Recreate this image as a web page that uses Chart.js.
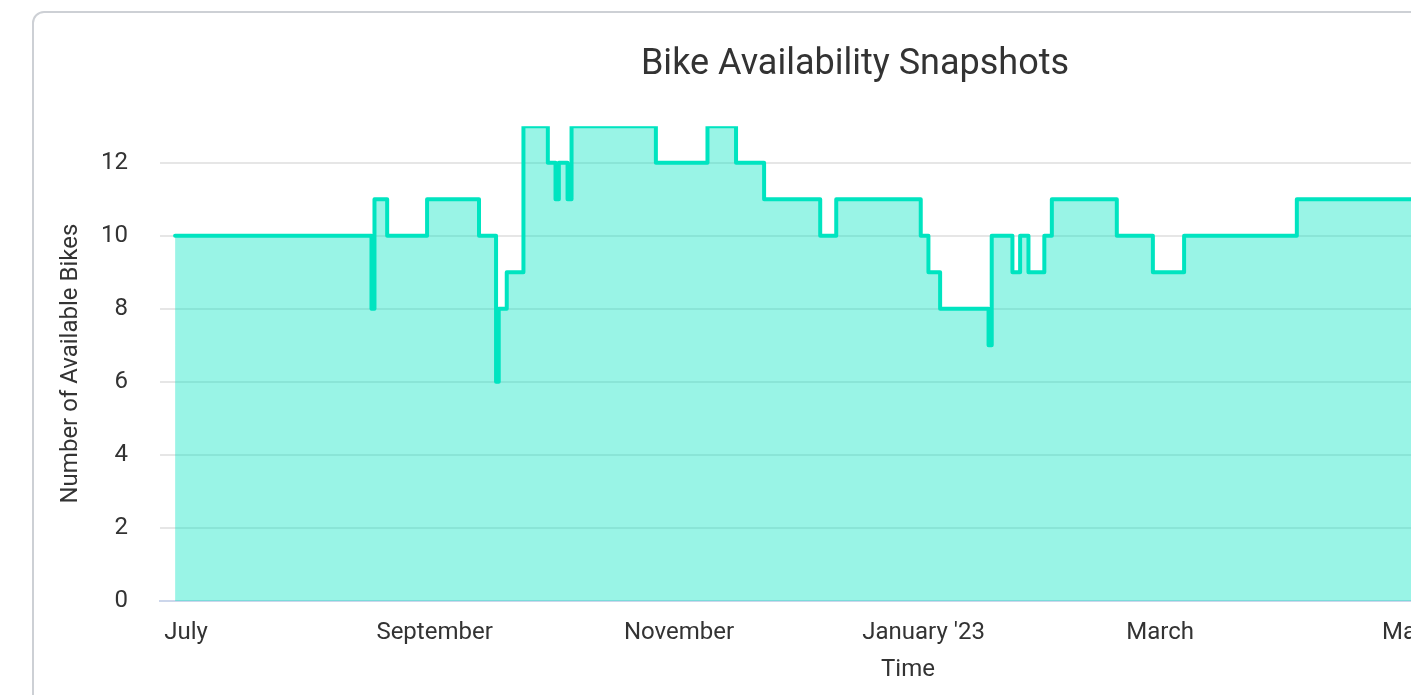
<!DOCTYPE html>
<html>
<head>
<meta charset="utf-8">
<title>Bike Availability Snapshots</title>
<script src="https://cdn.jsdelivr.net/npm/chart.js@4.4.1/dist/chart.umd.min.js"></script>
<style>
  html, body { margin: 0; padding: 0; background: #fff; overflow: hidden; }
  .card {
    position: absolute; left: 32px; top: 11px;
    width: 1660px; height: 760px;
    border: 2px solid #cdd0d5; border-radius: 12px;
    box-sizing: border-box; background: #fff;
  }
  #bikeChart { position: absolute; left: 0; top: 0; }
</style>
</head>
<body>
<div class="card"></div>
<canvas id="bikeChart" width="1710" height="695"></canvas>
<script>
// snapshot times (UTC) and bike count from that time on
const snapTimes = [
  '2022-06-28T06:00', '2022-08-16T06:00', '2022-08-17T00:00', '2022-08-20T04:00',
  '2022-08-30T03:00', '2022-09-12T02:00', '2022-09-16T08:00', '2022-09-17T00:00',
  '2022-09-19T00:00', '2022-09-23T04:00', '2022-09-29T06:00', '2022-10-01T04:00',
  '2022-10-02T00:00', '2022-10-04T04:00', '2022-10-05T04:00', '2022-10-26T05:00',
  '2022-11-08T02:00', '2022-11-15T05:00', '2022-11-22T05:00', '2022-12-06T05:00',
  '2022-12-10T05:00', '2022-12-31T07:00', '2023-01-02T05:00', '2023-01-05T03:00',
  '2023-01-17T05:00', '2023-01-18T00:00', '2023-01-23T04:00', '2023-01-25T02:00',
  '2023-01-27T04:00', '2023-01-31T03:00', '2023-02-02T00:00', '2023-02-18T05:00',
  '2023-02-27T05:00', '2023-03-07T00:00', '2023-04-04T03:00', '2023-06-28T06:00'
];
const bikeCounts = [
  10, 8, 11, 10,
  11, 10, 6, 8,
  9, 13, 12, 11,
  12, 11, 13, 12,
  13, 12, 11, 10,
  11, 10, 9, 8,
  7, 10, 9, 10,
  9, 10, 11, 10,
  9, 10, 11, 11
];

const xTickDates = ['2022-07-01', '2022-09-01', '2022-11-01', '2023-01-01', '2023-03-01', '2023-05-01'];
const xTickLabels = ['July', 'September', 'November', "January '23", 'March', 'May'];
const yTicks = [0, 2, 4, 6, 8, 10, 12];

const xStart = '2022-06-24T11:41';
const xEnd = '2023-07-02T17:41';

const toMs = s => Date.parse(s.length === 10 ? s + 'T00:00Z' : s + 'Z');

Chart.defaults.font.family = 'Roboto';
Chart.defaults.color = '#333333';

const axisFont = { family: 'Roboto', size: 24 };

const points = snapTimes.map((t, i) => ({ x: toMs(t), y: bikeCounts[i] }));

const ctx = document.getElementById('bikeChart').getContext('2d');
new Chart(ctx, {
    type: 'line',
    data: {
        datasets: [{
            label: 'Available Bikes',
            data: points,
            stepped: 'before',
            borderColor: '#00e4c0',
            backgroundColor: 'rgba(0, 228, 192, 0.4)',
            borderWidth: 4,
            borderJoinStyle: 'round',
            borderCapStyle: 'round',
            fill: 'origin',
            pointRadius: 0,
            pointHoverRadius: 0
        }]
    },
    options: {
        responsive: false,
        animation: false,
        layout: { padding: 0 },
        plugins: {
            legend: { display: false },
            tooltip: { enabled: false },
            title: {
                display: true,
                text: 'Bike Availability Snapshots',
                color: '#333333',
                font: { family: 'Roboto', size: 36, weight: 'normal' },
                padding: { top: 43, bottom: 40 }
            }
        },
        scales: {
            x: {
                type: 'linear',
                min: toMs(xStart),
                max: toMs(xEnd),
                grid: { display: false },
                border: { display: true, color: '#ccd6eb', width: 2 },
                ticks: {
                    autoSkip: false,
                    maxRotation: 0,
                    padding: 10,
                    color: '#333333',
                    font: axisFont,
                    callback: (value, index) => xTickLabels[index]
                },
                afterBuildTicks: scale => {
                    scale.ticks = xTickDates.map(d => ({ value: toMs(d) }));
                },
                afterFit: scale => { scale.height = 94; },
                title: {
                    display: true,
                    text: 'Time',
                    color: '#333333',
                    font: axisFont,
                    padding: { top: 0, bottom: 11 }
                }
            },
            y: {
                min: 0,
                max: 13,
                grid: { color: '#e6e6e6', lineWidth: 2, drawTicks: false },
                border: { display: false },
                ticks: { padding: 32, color: '#333333', font: axisFont },
                afterBuildTicks: scale => {
                    scale.ticks = yTicks.map(v => ({ value: v }));
                },
                afterFit: scale => { scale.width = 160; },
                title: {
                    display: true,
                    text: 'Number of Available Bikes',
                    color: '#333333',
                    font: axisFont,
                    padding: { top: 57, bottom: 0 }
                }
            },
            // empty right gutter so the title centres on the whole card
            gutter: {
                position: 'right',
                display: true,
                grid: { display: false },
                border: { display: false },
                ticks: { display: false },
                afterFit: scale => { scale.width = 54; }
            }
        }
    }
});
</script>
</body>
</html>
